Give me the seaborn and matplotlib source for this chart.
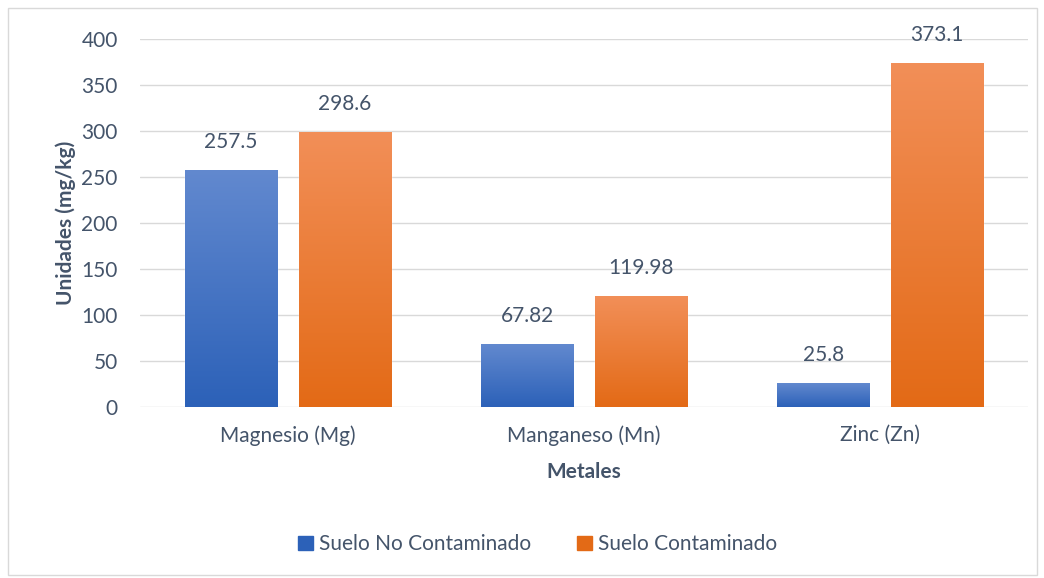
import numpy as np
import pandas as pd
import matplotlib
matplotlib.use('Agg')
import matplotlib.pyplot as plt
import matplotlib.colors as mcolors
from matplotlib.patches import Rectangle
import seaborn as sns

# Data
metales = ['Magnesio (Mg)', 'Manganeso (Mn)', 'Zinc (Zn)']
no_contaminado = [257.5, 67.82, 25.8]
contaminado = [298.6, 119.98, 373.1]
series = ['Suelo No Contaminado', 'Suelo Contaminado']

df = pd.DataFrame({
    'Metales': metales * 2,
    'valor': no_contaminado + contaminado,
    'Suelo': [series[0]] * 3 + [series[1]] * 3,
})

txt = '#44546A'
grad = {
    series[0]: ('#6289CF', '#2C61B8'),
    series[1]: ('#F28F58', '#E36A16'),
}
fs = 15

sns.set_theme(style='white')
plt.rcParams['font.family'] = ['Lato', 'DejaVu Sans']

fig = plt.figure(figsize=(10.44, 5.78), dpi=100)
ax = fig.add_axes([0.134, 0.296, 0.851, 0.637])

sns.barplot(data=df, x='Metales', y='valor', hue='Suelo', hue_order=series,
            palette=[grad[s][1] for s in series], width=0.77, gap=0.19,
            ax=ax, legend=False, zorder=3)

# gradient fill, clipped to each bar
for cont, s in zip(ax.containers, series):
    cmap = mcolors.LinearSegmentedColormap.from_list(s, [grad[s][1], grad[s][0]])
    for p in cont:
        x0, y0 = p.get_x(), p.get_y()
        im = ax.imshow(np.linspace(0, 1, 256).reshape(-1, 1), cmap=cmap,
                       extent=[x0, x0 + p.get_width(), y0, y0 + p.get_height()],
                       origin='lower', aspect='auto', zorder=3.5)
        im.set_clip_path(p)

lbls = [[f'{v:g}' for v in no_contaminado], [f'{v:g}' for v in contaminado]]
for cont, l in zip(ax.containers, lbls):
    ax.bar_label(cont, labels=l, padding=13, fontsize=fs, color=txt)

ax.set_xlim(-0.5, 2.5)
ax.set_ylim(0, 400)
ax.set_yticks(range(0, 401, 50))
ax.grid(axis='y', color='#D9D9D9', linewidth=1, zorder=0)
for sp in ax.spines.values():
    sp.set_visible(False)
ax.tick_params(axis='both', length=0, labelsize=fs, labelcolor=txt)
ax.tick_params(axis='x', pad=13)
ax.tick_params(axis='y', pad=16)
ax.set_xlabel('Metales', fontsize=fs, fontweight='bold', color=txt, labelpad=12)
ax.set_ylabel('Unidades (mg/kg)', fontsize=fs, fontweight='bold', color=txt, labelpad=4)

handles = [Rectangle((0, 0), 1, 1, color=grad[s][1]) for s in series]
fig.legend(handles, series, loc='center', bbox_to_anchor=(0.515, 0.058), ncol=2,
           frameon=False, fontsize=fs, labelcolor=txt, handlelength=0.7,
           handleheight=0.7, handletextpad=0.3, columnspacing=2.2)

fig.patches.append(Rectangle((0.008, 0.005), 0.985, 0.982, transform=fig.transFigure,
                             fill=False, edgecolor='#D9D9D9', linewidth=1))

fig.savefig('out.png', dpi=100)
